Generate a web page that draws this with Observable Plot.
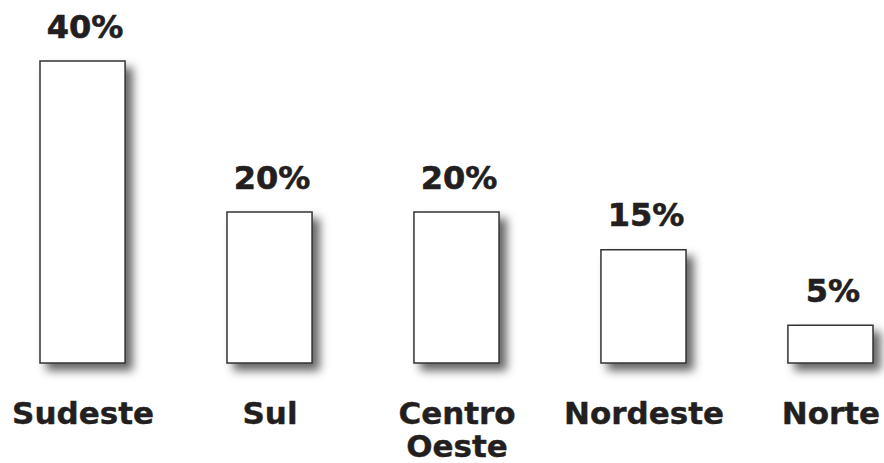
<!DOCTYPE html>
<html>
<head>
<meta charset="utf-8">
<script src="https://cdn.jsdelivr.net/npm/d3@7"></script>
<script src="https://cdn.jsdelivr.net/npm/@observablehq/plot@0.6"></script>
<style>
  html, body { margin: 0; padding: 0; background: #fff; }
  .regchart g[aria-label="bar"] rect {
    filter: drop-shadow(7px 7px 5px rgba(0,0,0,0.6));
  }
</style>
</head>
<body>
<div id="chart"></div>
<script>
const categories = ["Sudeste", "Sul", "Centro Oeste", "Nordeste", "Norte"];
const values = [40, 20, 20, 15, 5];
const tickLabels = ["Sudeste", "Sul", "Centro\nOeste", "Nordeste", "Norte"];

const data = categories.map((c, i) => ({category: c, value: values[i], label: tickLabels[i]}));

const chart = Plot.plot({
  className: "regchart",
  width: 884,
  height: 463,
  marginTop: 61,
  marginBottom: 100,
  marginLeft: 40,
  marginRight: 11,
  style: {fontFamily: "'DejaVu Sans', Verdana, sans-serif", background: "#fff"},
  x: {domain: categories, paddingInner: 0.545, paddingOuter: 0, round: false, axis: null},
  y: {domain: [0, 40], axis: null},
  marks: [
    Plot.barY(data, {x: "category", y: "value", fill: "#fff", stroke: "#333", strokeWidth: 1.5}),
    Plot.text(data, {x: "category", y: "value", text: d => d.value + "%", lineAnchor: "bottom", dy: -24, dx: 2,
      fontSize: 32, fontWeight: "bold", fill: "#231f20", letterSpacing: 4, stroke: "#231f20", strokeWidth: 0.6}),
    Plot.text(data, {x: "category", y: () => 0, text: "label", lineAnchor: "top", dy: 37, lineHeight: 1.07,
      fontSize: 31, fontWeight: "bold", fill: "#231f20", stroke: "#231f20", strokeWidth: 0.4})
  ]
});
document.getElementById("chart").appendChild(chart);
</script>
</body>
</html>
